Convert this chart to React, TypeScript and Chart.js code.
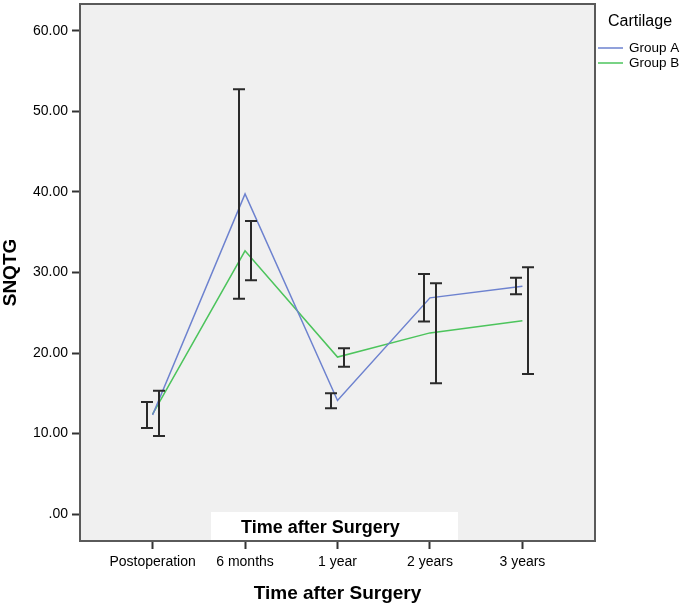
import React, { useEffect, useRef } from 'react';
import { Chart, registerables } from 'chart.js';

Chart.register(...registerables);

const categories = ['Postoperation', '6 months', '1 year', '2 years', '3 years'];
const groupAMean = [12.3, 39.75, 14.1, 26.85, 28.3];
const groupALower = [10.7, 26.75, 13.15, 23.9, 27.3];
const groupAUpper = [13.9, 52.75, 15.0, 29.8, 29.35];
const groupBMean = [12.4, 32.7, 19.5, 22.5, 24.0];
const groupBLower = [9.7, 29.05, 18.3, 16.25, 17.4];
const groupBUpper = [15.3, 36.4, 20.6, 28.65, 30.65];
const yTickValues = [0, 10, 20, 30, 40, 50, 60];
const seriesNames = ['Group A', 'Group B'];
const legendTitle = 'Cartilage';
const xTitle = 'Time after Surgery';
const yTitle = 'SNQTG';

const FONT = "'Liberation Sans', Arial, Helvetica, sans-serif";
const COLOR_A = '#6d82cf';
const COLOR_B = '#4cc45c';
const DODGE = 0.065;

export default function App() {
  const ref = useRef<HTMLCanvasElement>(null);

  useEffect(() => {
    const canvas = ref.current;
    if (!canvas) return;

    const framePlugin = {
      id: 'frame',
      beforeDraw(chart: any) {
        const { ctx, chartArea: a } = chart;
        ctx.save();
        ctx.fillStyle = '#f0f0f0';
        ctx.fillRect(a.left, a.top, a.right - a.left, a.bottom - a.top);
        ctx.restore();
      },
      afterDatasetsDraw(chart: any) {
        const { ctx, scales } = chart;
        const x = scales.x;
        const y = scales.y;
        ctx.save();
        ctx.strokeStyle = '#2a2a2a';
        ctx.lineWidth = 2;
        const groups = [
          { lo: groupALower, hi: groupAUpper, dx: -DODGE },
          { lo: groupBLower, hi: groupBUpper, dx: DODGE },
        ];
        groups.forEach((g) => {
          categories.forEach((_, i) => {
            const px = Math.round(x.getPixelForValue(i + g.dx));
            const top = y.getPixelForValue(g.hi[i]);
            const bot = y.getPixelForValue(g.lo[i]);
            ctx.beginPath();
            ctx.moveTo(px, top);
            ctx.lineTo(px, bot);
            ctx.moveTo(px - 6, top);
            ctx.lineTo(px + 6, top);
            ctx.moveTo(px - 6, bot);
            ctx.lineTo(px + 6, bot);
            ctx.stroke();
          });
        });
        ctx.restore();
      },
      afterDraw(chart: any) {
        const { ctx, chartArea: a } = chart;
        ctx.save();
        // inner white label box
        ctx.fillStyle = '#ffffff';
        ctx.fillRect(a.left + 131, a.bottom - 29, 247, 29);
        ctx.fillStyle = '#000000';
        ctx.font = `bold 18px ${FONT}`;
        ctx.textBaseline = 'middle';
        ctx.textAlign = 'left';
        ctx.fillText(xTitle, a.left + 161, a.bottom - 12.5);
        // frame
        ctx.strokeStyle = '#5a5a5a';
        ctx.lineWidth = 2;
        ctx.strokeRect(a.left, a.top, a.right - a.left, a.bottom - a.top);
        // legend
        ctx.font = `16px ${FONT}`;
        ctx.fillStyle = '#000000';
        ctx.fillText(legendTitle, a.right + 13, a.top + 18);
        const colors = [COLOR_A, COLOR_B];
        ctx.font = `13.5px ${FONT}`;
        seriesNames.forEach((name, i) => {
          const yy = a.top + 44 + i * 15;
          ctx.strokeStyle = colors[i];
          ctx.lineWidth = 1.5;
          ctx.beginPath();
          ctx.moveTo(a.right + 3, yy);
          ctx.lineTo(a.right + 28, yy);
          ctx.stroke();
          ctx.fillText(name, a.right + 34, yy);
        });
        ctx.restore();
      },
    };

    const chart = new Chart(canvas, {
      type: 'line',
      data: {
        datasets: [
          {
            label: seriesNames[0],
            data: groupAMean.map((v, i) => ({ x: i, y: v })),
            borderColor: COLOR_A,
            backgroundColor: COLOR_A,
            borderWidth: 1.5,
            pointRadius: 0,
            tension: 0,
          },
          {
            label: seriesNames[1],
            data: groupBMean.map((v, i) => ({ x: i, y: v })),
            borderColor: COLOR_B,
            backgroundColor: COLOR_B,
            borderWidth: 1.5,
            pointRadius: 0,
            tension: 0,
          },
        ],
      },
      options: {
        responsive: false,
        animation: false,
        layout: { padding: { left: 0, top: 4, right: 90, bottom: 0 } },
        plugins: {
          legend: { display: false },
          tooltip: { enabled: false },
        },
        scales: {
          x: {
            type: 'linear',
            min: -0.785,
            max: 4.785,
            afterBuildTicks: (scale: any) => {
              scale.ticks = categories.map((_, i) => ({ value: i }));
            },
            afterFit: (scale: any) => {
              scale.height = 66;
              scale.paddingLeft = 0;
              scale.paddingRight = 0;
            },
            ticks: {
              autoSkip: false,
              maxRotation: 0,
              padding: 5,
              color: '#000000',
              font: { family: FONT, size: 14 },
              callback: (v: any) => categories[Math.round(Number(v))] ?? '',
            },
            grid: {
              drawOnChartArea: false,
              drawTicks: true,
              tickLength: 8,
              tickColor: '#333333',
              tickWidth: 2,
            },
            border: { display: false },
            title: {
              display: true,
              text: xTitle,
              color: '#000000',
              font: { family: FONT, size: 19, weight: 'bold', lineHeight: 1.2 },
              padding: { top: 0, bottom: 2 },
            },
          },
          y: {
            type: 'linear',
            min: -3.35,
            max: 63.35,
            afterBuildTicks: (scale: any) => {
              scale.ticks = yTickValues.map((v) => ({ value: v }));
            },
            afterFit: (scale: any) => {
              scale.width = 80;
              scale.paddingTop = 0;
              scale.paddingBottom = 0;
            },
            ticks: {
              padding: 4,
              color: '#000000',
              font: { family: FONT, size: 14 },
              callback: (v: any) => {
                const n = Number(v);
                return n === 0 ? '.00' : n.toFixed(2);
              },
            },
            grid: {
              drawOnChartArea: false,
              drawTicks: true,
              tickLength: 8,
              tickColor: '#333333',
              tickWidth: 2,
            },
            border: { display: false },
            title: {
              display: true,
              text: yTitle,
              color: '#000000',
              font: { family: FONT, size: 19, weight: 'bold', lineHeight: 1.1 },
              padding: { top: 0, bottom: 0 },
            },
          },
        },
      },
      plugins: [framePlugin],
    } as any);

    return () => chart.destroy();
  }, []);

  return (
    <div style={{ position: 'absolute', left: 0, top: 0, width: 685, height: 607, background: '#ffffff' }}>
      <canvas ref={ref} width={685} height={607} style={{ display: 'block', width: 685, height: 607 }} />
    </div>
  );
}
